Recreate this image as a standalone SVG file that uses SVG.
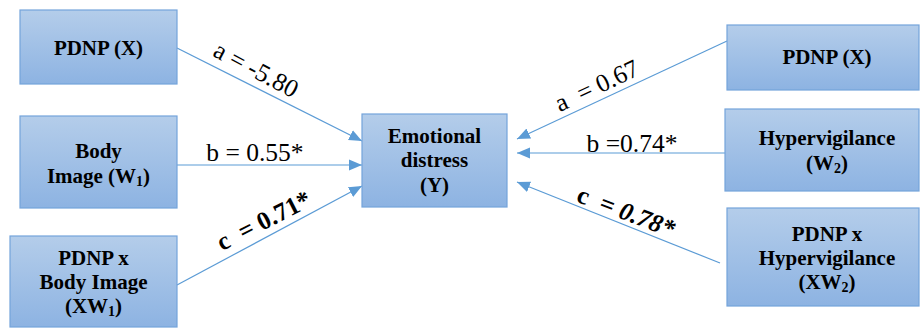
<svg xmlns="http://www.w3.org/2000/svg" width="921" height="329" viewBox="0 0 921 329">
<defs>
<linearGradient id="g" x1="0" y1="0" x2="0" y2="1">
<stop offset="0" stop-color="#b4cdea"/>
<stop offset="1" stop-color="#8db3e2"/>
</linearGradient>
<marker id="ah" markerUnits="userSpaceOnUse" markerWidth="14" markerHeight="12" refX="13" refY="6" orient="auto">
<path d="M0,0.5 L13,6 L0,11.5 z" fill="#5b9bd5"/>
</marker>
<style>
.box{fill:url(#g);stroke:#74a4db;stroke-width:1.2}
.nt{font-family:"Liberation Serif","Times New Roman",serif;font-weight:bold;font-size:21px;fill:#000;text-anchor:middle}
.sub{font-size:14px}
.lb{font-family:"Liberation Serif","Times New Roman",serif;font-size:25.5px;fill:#000;text-anchor:middle;white-space:pre}
.bd{font-weight:bold}
.cn{stroke:#5b9bd5;stroke-width:1.2;fill:none;marker-end:url(#ah)}
</style>
</defs>
<rect width="921" height="329" fill="#fff"/>

<g id="connectors">
<line class="cn" x1="177" y1="48" x2="362" y2="141"/>
<line class="cn" x1="177" y1="165" x2="362" y2="165"/>
<line class="cn" x1="177" y1="285" x2="362" y2="186"/>
<line class="cn" x1="727" y1="41" x2="517" y2="139"/>
<line class="cn" x1="725" y1="153" x2="517" y2="153"/>
<line class="cn" x1="720" y1="263" x2="517" y2="182"/>
</g>

<g id="labels">
<text class="lb" transform="translate(256,70) rotate(28)" y="8">a = -5.80</text>
<text class="lb" x="255" y="161">b = 0.55*</text>
<text class="lb bd" transform="translate(264,221) rotate(-27)" y="8">c  = 0.71*</text>
<text class="lb" transform="translate(597,86) rotate(-25)" y="8">a  = 0.67</text>
<text class="lb" x="632" y="152">b =0.74*</text>
<text class="lb bd" transform="translate(626,212) rotate(21)" y="8">c  = <tspan font-style="italic">0.78*</tspan></text>
</g>

<g id="node-x-left">
<rect class="box" x="20" y="10" width="157" height="74"/>
<text class="nt" x="98.5" y="55">PDNP (X)</text>
</g>

<g id="node-w1">
<rect class="box" x="20" y="116" width="157" height="92"/>
<text class="nt" x="98.5" y="158">Body</text>
<text class="nt" x="98.5" y="183">Image (W<tspan class="sub" dy="3">1</tspan><tspan dy="-3">)</tspan></text>
</g>

<g id="node-xw1">
<rect class="box" x="10" y="236" width="167" height="91"/>
<text class="nt" x="93.5" y="265">PDNP x</text>
<text class="nt" x="93.5" y="289">Body Image</text>
<text class="nt" x="93.5" y="313">(XW<tspan class="sub" dy="3">1</tspan><tspan dy="-3">)</tspan></text>
</g>

<g id="node-y">
<rect class="box" x="362" y="114" width="145" height="93"/>
<text class="nt" x="434.5" y="143">Emotional</text>
<text class="nt" x="434.5" y="167">distress</text>
<text class="nt" x="434.5" y="192">(Y)</text>
</g>

<g id="node-x-right">
<rect class="box" x="727" y="25" width="192" height="65"/>
<text class="nt" x="827" y="64">PDNP (X)</text>
</g>

<g id="node-w2">
<rect class="box" x="725" y="109" width="194" height="82"/>
<text class="nt" x="827" y="145">Hypervigilance</text>
<text class="nt" x="827" y="170">(W<tspan class="sub" dy="3">2</tspan><tspan dy="-3">)</tspan></text>
</g>

<g id="node-xw2">
<rect class="box" x="727" y="208" width="192" height="98"/>
<text class="nt" x="827" y="241">PDNP x</text>
<text class="nt" x="827" y="265">Hypervigilance</text>
<text class="nt" x="827" y="289">(XW<tspan class="sub" dy="3">2</tspan><tspan dy="-3">)</tspan></text>
</g>
</svg>
